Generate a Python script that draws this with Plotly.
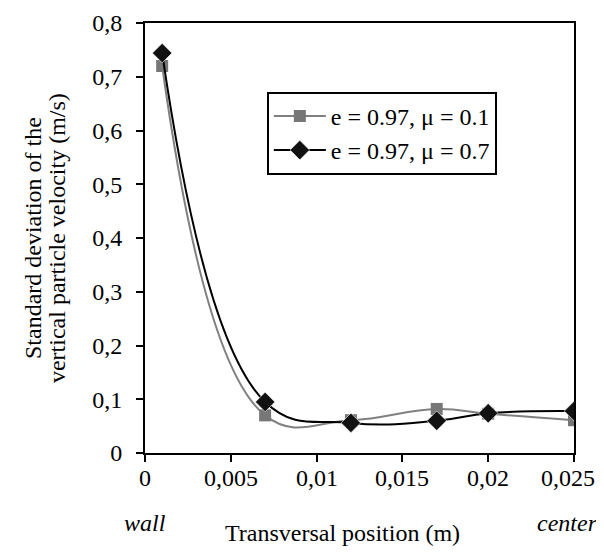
import plotly.graph_objects as go

x_pos = [0.001, 0.007, 0.012, 0.017, 0.020, 0.025]
mu01 = [0.720, 0.070, 0.061, 0.082, 0.073, 0.061]
mu07 = [0.744, 0.095, 0.056, 0.060, 0.074, 0.078]

x_ticks = [0, 0.005, 0.01, 0.015, 0.02, 0.025]
x_labels = ["0", "0,005", "0,01", "0,015", "0,02", "0,025"]
y_ticks = [0, 0.1, 0.2, 0.3, 0.4, 0.5, 0.6, 0.7, 0.8]
y_labels = ["0", "0,1", "0,2", "0,3", "0,4", "0,5", "0,6", "0,7", "0,8"]

font = "Liberation Serif"
FS = 24

fig = go.Figure()
fig.add_trace(go.Scatter(
    x=x_pos, y=mu01, mode="lines+markers", name="e = 0.97, \u03bc = 0.1",
    line=dict(color="#808080", width=2, shape="spline", smoothing=1.2),
    marker=dict(symbol="square", size=12, color="#777777"),
))
fig.add_trace(go.Scatter(
    x=x_pos, y=mu07, mode="lines+markers", name="e = 0.97, \u03bc = 0.7",
    line=dict(color="#000000", width=2, shape="spline", smoothing=1.2),
    marker=dict(symbol="diamond", size=15, color="#111111",
                line=dict(color="#ffffff", width=0.6)),
))

axis_common = dict(
    showgrid=False, zeroline=False, automargin=False,
    showline=True, linecolor="black", linewidth=2, mirror=True,
    ticks="outside", ticklen=7, tickcolor="black", tickwidth=1.5,
    tickfont=dict(family=font, size=FS, color="black"),
)

# page body adds an 8px margin; size the figure so the page does not scroll
fig.update_layout(
    width=596, height=538,
    margin=dict(l=137, r=30, t=15, b=93, autoexpand=False),
    paper_bgcolor="white", plot_bgcolor="white",
    font=dict(family=font, size=FS, color="black"),
    showlegend=True,
    legend=dict(
        x=0.284, y=0.84, xanchor="left", yanchor="top",
        bordercolor="black", borderwidth=2, bgcolor="white",
        font=dict(family=font, size=FS),
        tracegroupgap=0, itemwidth=52,
    ),
    xaxis=dict(range=[0, 0.025], tickvals=x_ticks, showticklabels=False,
               **axis_common),
    yaxis=dict(range=[0, 0.8], tickvals=y_ticks, ticktext=y_labels,
               ticklabelstandoff=9, **axis_common),
)

def ann(text, x, y, xref="paper", angle=0, italic=False, xshift=0):
    fig.add_annotation(text=f"<i>{text}</i>" if italic else text,
                       x=x, y=y, xref=xref, yref="paper", textangle=angle,
                       xanchor="center", yanchor="middle", showarrow=False,
                       xshift=xshift,
                       font=dict(family=font, size=FS, color="black"))

# x tick labels (last one nudged left so it stays inside the page)
for i, (tv, tl) in enumerate(zip(x_ticks, x_labels)):
    ann(tl, tv, -0.058, xref="x", xshift=-6 if i == len(x_ticks) - 1 else 0)

ann("Standard deviation of the", -0.261, 0.5, angle=-90)
ann("vertical particle velocity (m/s)", -0.205, 0.5, angle=-90)
ann("Transversal position (m)", 0.4615, -0.186)
ann("wall", 0, -0.163, xref="x", italic=True)
ann("center", 0.9837, -0.163, italic=True)

fig.write_html("out.html")
